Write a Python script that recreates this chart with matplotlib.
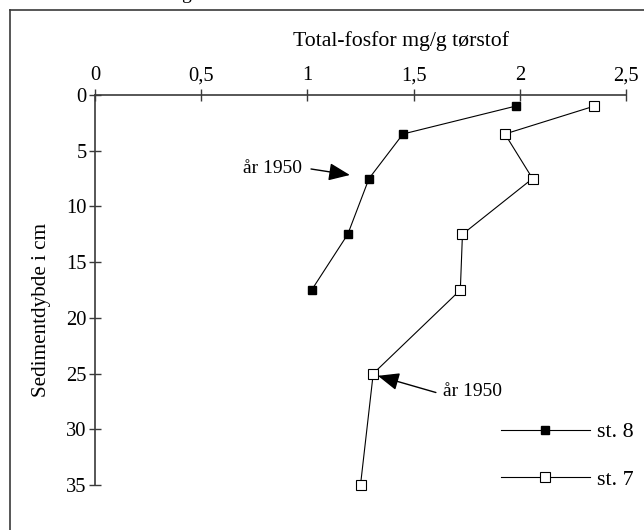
import matplotlib
matplotlib.use("Agg")
import matplotlib.pyplot as plt
from matplotlib.lines import Line2D
from matplotlib.ticker import FuncFormatter

depth8 = [1, 3.5, 7.5, 12.5, 17.5]
phos8 = [1.98, 1.45, 1.29, 1.19, 1.02]
depth7 = [1, 3.5, 7.5, 12.5, 17.5, 25, 35]
phos7 = [2.35, 1.93, 2.06, 1.73, 1.72, 1.31, 1.25]
xticks = [0, 0.5, 1, 1.5, 2, 2.5]
yticks = [0, 5, 10, 15, 20, 25, 30, 35]

W, H = 644, 530
plt.rcParams['font.family'] = ['Liberation Serif', 'DejaVu Serif']
fig = plt.figure(figsize=(W/100, H/100), dpi=100)
ax = fig.add_axes([95/W, 1-485/H, (626-95)/W, (485-95)/H])

axc = '#3a3a3a'
ax.plot(phos8, depth8, color='black', lw=0.8, marker='s', ms=5.5,
        mfc='black', mec='black', label='st. 8', clip_on=False, zorder=3)
ax.plot(phos7, depth7, color='black', lw=0.8, marker='s', ms=7,
        mfc='white', mec='black', mew=0.8, label='st. 7', clip_on=False, zorder=3)

ax.set_xlim(0, 2.5)
ax.set_ylim(35, 0)
ax.xaxis.tick_top()
ax.set_xticks(xticks)
ax.set_yticks(yticks)
fmt = FuncFormatter(lambda v, p: ('%g' % v).replace('.', ','))
ax.xaxis.set_major_formatter(fmt)
ax.yaxis.set_major_formatter(fmt)
for s in ['right', 'bottom']:
    ax.spines[s].set_visible(False)
for s in ['left', 'top']:
    ax.spines[s].set_color(axc)
    ax.spines[s].set_linewidth(1.2)
ax.tick_params(axis='both', direction='inout', length=8, width=1.0, color=axc,
               labelsize=14.8, pad=2)
ax.tick_params(axis='x', pad=3)

fig.text(401/W, 1-41/H, 'Total-fosfor mg/g tørstof', ha='center', va='center', fontsize=15.7)
fig.text(42/W, 1-310/H, 'Sedimentdybde i cm', ha='center', va='center',
         rotation=90, fontsize=15.2)

ap = dict(arrowstyle='-|>,head_length=0.65,head_width=0.27', color='black',
          lw=1.0, shrinkA=0, shrinkB=0, mutation_scale=20)
ax.annotate('', xy=(1.2, 7.18), xytext=(1.017, 6.64), arrowprops=ap)
ax.text(0.975, 6.64, 'år 1950', ha='right', va='center', fontsize=14)
ax.annotate('', xy=(1.332, 25.2), xytext=(1.605, 26.7), arrowprops=ap)
ax.text(1.638, 26.6, 'år 1950', ha='left', va='center', fontsize=14)

leg = ax.legend(loc='upper left', bbox_to_anchor=(501/W, 1-422/H),
                bbox_transform=fig.transFigure, frameon=False, fontsize=15.8,
                handlelength=4.05, handletextpad=0.32, labelspacing=1.23,
                borderpad=0, borderaxespad=0)

fig.add_artist(Line2D([10/W, 10/W], [0, 1-10/H], color=axc, lw=1.2))
fig.add_artist(Line2D([10/W, 1], [1-10/H, 1-10/H], color=axc, lw=1.2))
fig.text(186/W, 1+1/H, 'g', ha='center', va='baseline', fontsize=14)

fig.savefig('out.png', dpi=100)
